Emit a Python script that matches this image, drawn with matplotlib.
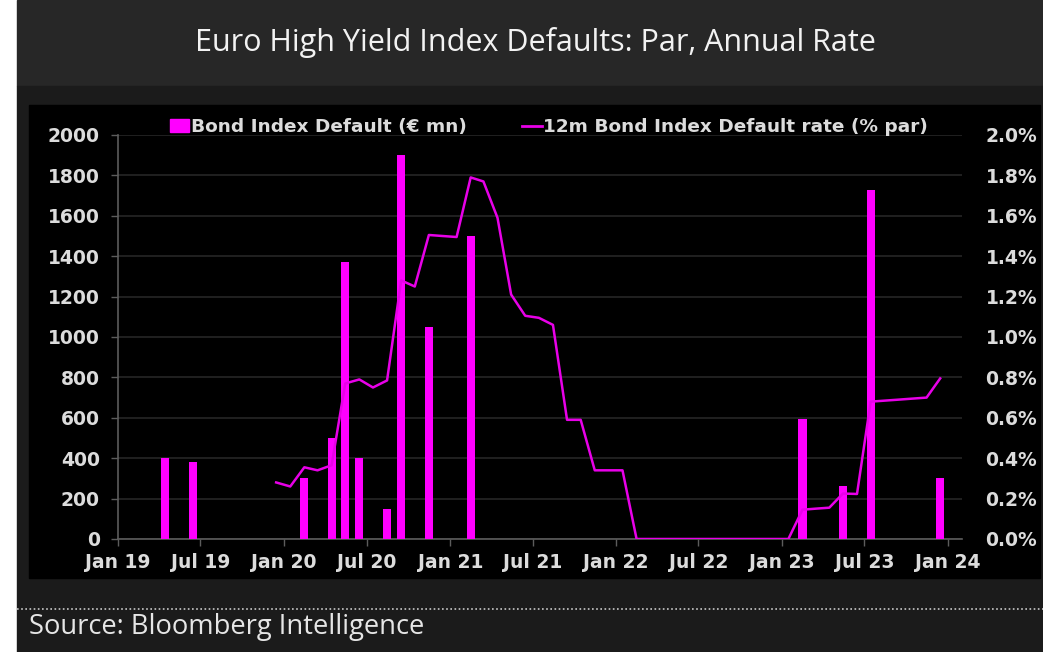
import matplotlib
matplotlib.use("Agg")
import matplotlib.pyplot as plt
import matplotlib.dates as mdates
from matplotlib.patches import Rectangle, Patch
from matplotlib.lines import Line2D
import pandas as pd

# monthly default amounts (EUR mn)
bar_months = ["2019-04", "2019-06", "2020-02", "2020-04", "2020-05", "2020-06",
              "2020-08", "2020-09", "2020-11", "2021-02", "2023-02", "2023-05",
              "2023-07", "2023-12"]
bar_values = [400, 380, 300, 500, 1370, 400, 150, 1900, 1050, 1500, 595, 260, 1730, 300]

# 12m default rate (% par), monthly from Dec 2019
rate_start = "2019-12"
rate_values = [0.28, 0.26, 0.355, 0.34, 0.365, 0.77, 0.79, 0.75, 0.785, 1.28, 1.25, 1.505,
               1.50, 1.495, 1.79, 1.77, 1.59, 1.21, 1.105, 1.095, 1.06, 0.59, 0.59, 0.34,
               0.34, 0.34, 0.0, 0.0, 0.0, 0.0, 0.0, 0.0, 0.0, 0.0, 0.0, 0.0, 0.0,
               0.0, 0.145, 0.15, 0.155, 0.225, 0.223, 0.68, 0.685, 0.69, 0.695, 0.70, 0.795]

title = "Euro High Yield Index Defaults: Par, Annual Rate"
source = "Source: Bloomberg Intelligence"
bar_label = "Bond Index Default (\u20ac mn)"
line_label = "12m Bond Index Default rate (% par)"

W, H = 1043, 652
BAR_C = "#ff00ff"
LINE_C = "#e800e8"
TXT_C = "#dcdcdc"
TICK_FS = 13.5


def fx(px):
    return px / W


def fy(py):
    return 1 - py / H


def box(fig, x0, y0, x1, y1, color):
    fig.patches.append(Rectangle((fx(x0), fy(y1)), fx(x1) - fx(x0), fy(y0) - fy(y1),
                                 transform=fig.transFigure, color=color, zorder=-10))


fig = plt.figure(figsize=(W / 100, H / 100), dpi=100, facecolor="white")

# background frame
box(fig, 17, 0, W, 86, "#272727")
box(fig, 17, 86, W, H, "#1b1b1b")
box(fig, 29, 105, 1040, 578, "#000000")
fig.add_artist(Line2D([fx(17), 1], [fy(609), fy(609)], transform=fig.transFigure,
                      color="#c8c8c8", lw=1.2, ls=(0, (1, 1.5))))

fig.text(fx(535), fy(43), title, ha="center", va="center", color="#f2f2f2",
         fontsize=22, family="Open Sans")
fig.text(fx(29), fy(627), source, ha="left", va="center", color="#e6e6e6",
         fontsize=19.7, family="Open Sans")

ax = fig.add_axes([fx(118), fy(539), fx(962) - fx(118), fy(135) - fy(539)])
ax.set_facecolor("black")

bx = pd.to_datetime(bar_months) + pd.Timedelta(days=14)
ax.bar(bx, bar_values, width=18, color=BAR_C, zorder=3)

ax2 = ax.twinx()
lx = pd.date_range(rate_start, periods=len(rate_values), freq="MS") + pd.Timedelta(days=14)
ax2.plot(lx, rate_values, color=LINE_C, lw=1.8, zorder=4)

ax.set_ylim(0, 2000)
ax.set_yticks(range(0, 2001, 200))
ax2.set_ylim(0, 2.0)
ax2.set_yticks([i / 10 for i in range(0, 21, 2)])
ax2.set_yticklabels([f"{i / 10:.1f}%" for i in range(0, 21, 2)])

ax.set_xlim(pd.Timestamp("2019-01-01"), pd.Timestamp("2024-02-01"))
ax.xaxis.set_major_locator(mdates.MonthLocator(bymonth=[1, 7]))
ax.xaxis.set_major_formatter(mdates.DateFormatter("%b %y"))

ax.grid(axis="y", color="#262626", lw=1.2, zorder=0)
ax.set_axisbelow(True)
for s in ["top", "right"]:
    ax.spines[s].set_visible(False)
for s in ["left", "bottom"]:
    ax.spines[s].set_color("#5c5c5c")
    ax.spines[s].set_linewidth(1.2)
for s in ax2.spines.values():
    s.set_visible(False)

ax.tick_params(axis="x", colors="#5c5c5c", length=5, width=1, labelcolor=TXT_C,
               labelsize=TICK_FS, pad=5)
ax.tick_params(axis="y", colors="#5c5c5c", length=5, width=1, labelcolor=TXT_C,
               labelsize=TICK_FS, pad=8)
ax2.tick_params(axis="y", length=0, labelcolor=TXT_C, labelsize=TICK_FS, pad=17)
for lab in ax.get_xticklabels() + ax.get_yticklabels() + ax2.get_yticklabels():
    lab.set_fontweight("bold")

handles = [Patch(color=BAR_C, label=bar_label),
           Line2D([], [], color=LINE_C, lw=2, label=line_label)]
leg = fig.legend(handles=handles, loc="center", bbox_to_anchor=(fx(549), fy(127)),
                 ncol=2, frameon=False, handlelength=1.05, handleheight=0.7,
                 handletextpad=0.1, columnspacing=3.0, borderpad=0,
                 prop={"weight": "bold", "size": 13.3})
for t in leg.get_texts():
    t.set_color(TXT_C)

fig.savefig("out.png", dpi=100, facecolor=fig.get_facecolor())
